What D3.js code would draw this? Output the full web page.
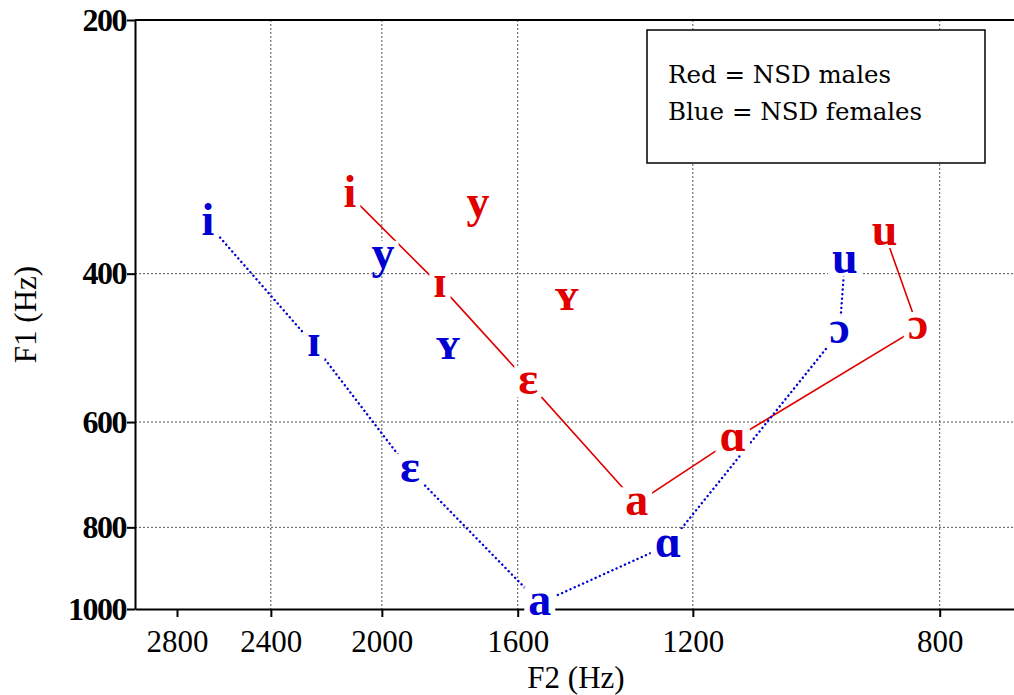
<!DOCTYPE html>
<html>
<head>
<meta charset="utf-8">
<script src="https://cdn.jsdelivr.net/npm/d3@7"></script>
<style>
  body { margin: 0; background: #fff; }
  svg { display: block; }
</style>
</head>
<body>
<div id="chart"></div>
<script>
const width = 1014;
const height = 695;
const margin = { top: 20, right: -7, bottom: 86, left: 135 };

// vowel symbols, the first seven are joined by a line
const vowels = ["i", "ɪ", "ɛ", "a", "ɑ", "ɔ", "u", "y", "ʏ"];
const joined = ["i", "ɪ", "ɛ", "a", "ɑ", "ɔ", "u"];

// NSD males (red)
const maleF2 = [2108, 1818, 1573, 1316, 1124, 829, 876, 1708, 1476];
const maleF1 = [323, 413, 538, 749, 630, 464, 358, 332, 428];

// NSD females (blue)
const femaleF2 = [2661, 2236, 1910, 1543, 1250, 943, 935, 1996, 1794];
const femaleF1 = [349, 486, 684, 984, 840, 469, 387, 382, 490];

const f2Ticks = [2800, 2400, 2000, 1600, 1200, 800];
const f1Ticks = [200, 400, 600, 800, 1000];
const f2Grid = [2400, 2000, 1600, 1200, 800];
const f1Grid = [400, 600, 800];

const legendLines = ["Red = NSD males", "Blue = NSD females"];

const red = "#e00000";
const blue = "#0000d2";
const serif = "'Liberation Serif', 'Times New Roman', serif";

const x = d3.scaleLog()
  .domain([3000, 700])
  .range([margin.left, width - margin.right]);

const y = d3.scaleLog()
  .domain([200, 1000])
  .range([margin.top, height - margin.bottom]);

const svg = d3.select("#chart")
  .append("svg")
  .attr("width", width)
  .attr("height", height);

// grid
svg.append("g")
  .selectAll("line")
  .data(f2Grid)
  .join("line")
  .attr("x1", d => x(d))
  .attr("x2", d => x(d))
  .attr("y1", y(200))
  .attr("y2", y(1000))
  .attr("stroke", "#555")
  .attr("stroke-width", 1)
  .attr("stroke-dasharray", "2,2");

svg.append("g")
  .selectAll("line")
  .data(f1Grid)
  .join("line")
  .attr("x1", margin.left)
  .attr("x2", width)
  .attr("y1", d => y(d))
  .attr("y2", d => y(d))
  .attr("stroke", "#555")
  .attr("stroke-width", 1)
  .attr("stroke-dasharray", "2,2");

// axes
const xAxis = d3.axisBottom(x)
  .tickValues(f2Ticks)
  .tickFormat(d3.format("d"))
  .tickSize(8)
  .tickSizeOuter(0)
  .tickPadding(13);

const gx = svg.append("g")
  .attr("transform", `translate(0, ${y(1000)})`)
  .call(xAxis);

gx.selectAll("text")
  .attr("font-family", serif)
  .attr("font-size", 31)
  .attr("fill", "#000");

const yAxis = d3.axisLeft(y)
  .tickValues(f1Ticks)
  .tickFormat(d3.format("d"))
  .tickSize(8)
  .tickSizeOuter(0)
  .tickPadding(1);

const gy = svg.append("g")
  .attr("transform", `translate(${margin.left}, 0)`)
  .call(yAxis);

gy.selectAll("text")
  .attr("font-family", serif)
  .attr("font-size", 32)
  .attr("font-weight", "bold")
  .attr("letter-spacing", -1.5)
  .attr("fill", "#000");

[gx, gy].forEach(g => {
  g.selectAll("path, line").attr("stroke", "#000").attr("stroke-width", 2);
});

svg.append("line")
  .attr("x1", margin.left)
  .attr("x2", width)
  .attr("y1", y(200))
  .attr("y2", y(200))
  .attr("stroke", "#000")
  .attr("stroke-width", 2);

// axis titles
svg.append("text")
  .attr("x", 576)
  .attr("y", 688)
  .attr("text-anchor", "middle")
  .attr("font-family", serif)
  .attr("font-size", 31)
  .text("F2 (Hz)");

svg.append("text")
  .attr("transform", "rotate(-90)")
  .attr("x", -(y(200) + y(1000)) / 2)
  .attr("y", 36)
  .attr("text-anchor", "middle")
  .attr("font-family", serif)
  .attr("font-size", 31)
  .text("F1 (Hz)");

// vowel series
const series = [
  { f2: maleF2, f1: maleF1, color: red, dash: null, width: 1.6 },
  { f2: femaleF2, f1: femaleF1, color: blue, dash: "0.1,4.5", width: 2.4 }
];

const line = d3.line()
  .x(d => x(d.f2))
  .y(d => y(d.f1));

series.forEach(s => {
  s.points = vowels.map((v, i) => ({ v, f2: s.f2[i], f1: s.f1[i] }));
  svg.append("path")
    .datum(s.points.filter(p => joined.includes(p.v)))
    .attr("d", line)
    .attr("fill", "none")
    .attr("stroke", s.color)
    .attr("stroke-width", s.width)
    .attr("stroke-linecap", "round")
    .attr("stroke-dasharray", s.dash);
});

const fs = 46;
series.forEach(s => {
  const g = svg.append("g");
  const boxes = g.append("g");
  const labels = g.selectAll("text")
    .data(s.points)
    .join("text")
    .attr("x", d => x(d.f2))
    .attr("y", d => y(d.f1) + fs * 0.25)
    .attr("text-anchor", "middle")
    .attr("font-family", serif)
    .attr("font-weight", "bold")
    .attr("font-size", fs)
    .attr("fill", s.color)
    .text(d => d.v);

  labels.each(function (d) {
    const w = this.getBBox().width + 8;
    boxes.append("rect")
      .attr("x", x(d.f2) - w / 2)
      .attr("y", y(d.f1) - 16)
      .attr("width", w)
      .attr("height", 31)
      .attr("fill", "#fff");
  });
});

// legend
svg.append("rect")
  .attr("x", 647)
  .attr("y", 30)
  .attr("width", 338)
  .attr("height", 133)
  .attr("fill", "#fff")
  .attr("stroke", "#000")
  .attr("stroke-width", 1.5);

svg.append("g")
  .selectAll("text")
  .data(legendLines)
  .join("text")
  .attr("x", 668)
  .attr("y", (d, i) => 83 + i * 37)
  .attr("font-family", "'DejaVu Serif', serif")
  .attr("font-size", 24.5)
  .text(d => d);
</script>
</body>
</html>
